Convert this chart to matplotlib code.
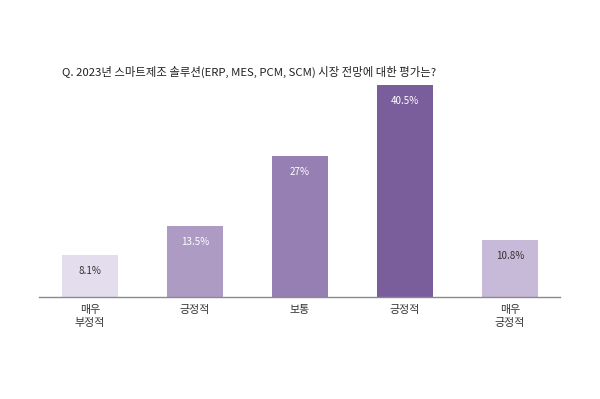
import matplotlib
matplotlib.use('Agg')
import matplotlib.pyplot as plt

plt.rcParams['font.family'] = ['Noto Sans CJK KR', 'DejaVu Sans']

# 데이터
categories = ['매우\n부정적', '긍정적', '보통', '긍정적', '매우\n긍정적']
values = [8.1, 13.5, 27, 40.5, 10.8]
value_labels = ['8.1%', '13.5%', '27%', '40.5%', '10.8%']
bar_colors = ['#e3dded', '#ad9bc4', '#9680b3', '#7a5e9c', '#c7b9d8']
text_colors = ['#333333', '#ffffff', '#ffffff', '#ffffff', '#333333']

fig = plt.figure(figsize=(6, 3.99), dpi=100)
ax = fig.add_axes([39/600, 102/399, 521/600, 212/399])

x = list(range(len(values)))
ax.bar(x, values, width=0.533, color=bar_colors, zorder=2)

for xi, v, lab, tc in zip(x, values, value_labels, text_colors):
    ax.annotate(lab, (xi, v), xytext=(0, -11.5), textcoords='offset points',
                ha='center', va='center', fontsize=7.1, color=tc)

ax.set_xlim(-0.486, 4.476)
ax.set_ylim(0, 40.5)
ax.set_xticks(x)
ax.set_xticklabels(categories, fontsize=7.9, color='#333333', linespacing=1.4)
ax.tick_params(axis='x', length=0, pad=5.5)
ax.set_yticks([])
for s in ['top', 'right', 'left']:
    ax.spines[s].set_visible(False)
ax.spines['bottom'].set_color('#8a8a8a')
ax.spines['bottom'].set_linewidth(1.0)

fig.text(62/600, 1 - 72/399, 'Q. 2023년 스마트제조 솔루션(ERP, MES, PCM, SCM) 시장 전망에 대한 평가는?',
         ha='left', va='center', fontsize=8.2, color='#222222')

fig.savefig('out.png', dpi=100)
